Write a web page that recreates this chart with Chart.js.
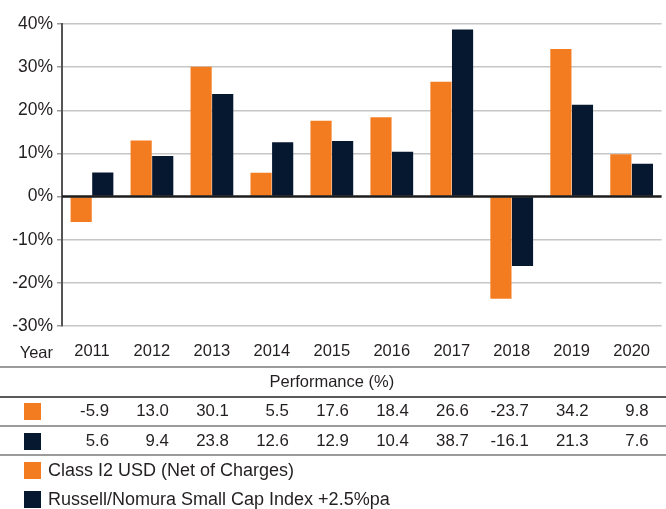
<!DOCTYPE html>
<html>
<head>
<meta charset="utf-8">
<script src="https://cdn.jsdelivr.net/npm/chart.js@4.4.1/dist/chart.umd.min.js"></script>
<style>
html, body { margin: 0; padding: 0; background: #fff; }
#wrap { width: 666px; height: 509px; position: relative; }
</style>
</head>
<body>
<div id="wrap"><canvas id="perfChart"></canvas></div>
<script>
// values
var years = ['2011', '2012', '2013', '2014', '2015', '2016', '2017', '2018', '2019', '2020'];
var classI2 = [-5.9, 13.0, 30.1, 5.5, 17.6, 18.4, 26.6, -23.7, 34.2, 9.8];
var russell = [5.6, 9.4, 23.8, 12.6, 12.9, 10.4, 38.7, -16.1, 21.3, 7.6];
var seriesNames = ['Class I2 USD (Net of Charges)', 'Russell/Nomura Small Cap Index +2.5%pa'];
var yMin = -30, yMax = 40, yStep = 10;

var ORANGE = '#f47c20';
var NAVY = '#061830';
var TEXT = '#231f20';
var FAMILY = "'Liberation Sans', Arial, sans-serif";

// zero line on top of the bars + the data table and legend below the axis
var tablePlugin = {
    id: 'perfTable',
    afterDatasetsDraw: function (chart) {
        var ctx = chart.ctx, area = chart.chartArea;
        var y0 = chart.scales.y.getPixelForValue(0);
        ctx.save();
        ctx.strokeStyle = '#1c1c1c';
        ctx.lineWidth = 2.5;
        ctx.beginPath();
        ctx.moveTo(area.left, y0);
        ctx.lineTo(area.right, y0);
        ctx.stroke();
        ctx.restore();
    },
    afterDraw: function (chart) {
        var ctx = chart.ctx;
        var x = chart.scales.x;
        var W = chart.width;
        ctx.save();
        ctx.font = '16.5px ' + FAMILY;
        ctx.fillStyle = TEXT;
        ctx.textBaseline = 'middle';

        ctx.textAlign = 'right';
        ctx.fillText('Year', 53, 353);

        function hline(y, color) {
            ctx.strokeStyle = color;
            ctx.lineWidth = 1.5;
            ctx.beginPath();
            ctx.moveTo(0, y);
            ctx.lineTo(W, y);
            ctx.stroke();
        }
        hline(367, '#7a7a7a');
        ctx.textAlign = 'center';
        ctx.fillText('Performance (%)', x.getPixelForValue(4), 382);
        hline(397, '#222');

        var rows = [classI2, russell];
        var rowY = [411, 441];
        var colors = chart.data.datasets.map(function (d) { return d.backgroundColor; });
        ctx.font = '16.8px ' + FAMILY;
        rows.forEach(function (vals, r) {
            ctx.fillStyle = colors[r];
            ctx.fillRect(24, rowY[r] - 8, 17, 17);
            ctx.fillStyle = TEXT;
            ctx.textAlign = 'right';
            vals.forEach(function (v, i) {
                ctx.fillText(v.toFixed(1), x.getPixelForValue(i) + 17, rowY[r]);
            });
        });
        hline(426, '#7a7a7a');
        hline(455, '#7a7a7a');

        // legend
        ctx.font = '18px ' + FAMILY;
        var legY = [470, 499];
        chart.data.datasets.forEach(function (d, r) {
            ctx.fillStyle = d.backgroundColor;
            ctx.fillRect(24, legY[r] - 8, 17, 17);
            ctx.fillStyle = TEXT;
            ctx.textAlign = 'left';
            ctx.fillText(d.label, 48, legY[r] + 1);
        });
        ctx.restore();
    }
};

var ctx = document.getElementById('perfChart');

var perfChart = new Chart(ctx, {
    type: 'bar',
    data: {
        labels: years,
        datasets: [{
            label: seriesNames[0],
            backgroundColor: ORANGE,
            data: classI2
        }, {
            label: seriesNames[1],
            backgroundColor: NAVY,
            data: russell
        }]
    },
    options: {
        responsive: true,
        maintainAspectRatio: false,
        animation: false,
        layout: { padding: { top: 24, right: 0, left: 0, bottom: 143 } },
        datasets: {
            bar: { categoryPercentage: 0.72, barPercentage: 0.98 }
        },
        plugins: {
            legend: { display: false },
            tooltip: { enabled: false }
        },
        scales: {
            x: {
                grid: { display: false, drawTicks: false },
                border: { display: false },
                ticks: { color: TEXT, font: { family: FAMILY, size: 16.5 }, padding: 16, maxRotation: 0 },
                afterFit: function (s) { s.height = 40; }
            },
            y: {
                min: yMin,
                max: yMax,
                ticks: {
                    stepSize: yStep,
                    color: TEXT,
                    padding: 4,
                    font: { family: FAMILY, size: 17.5 },
                    callback: function (v) { return v + '%'; }
                },
                grid: {
                    color: function (c) { return c.tick && c.tick.value === 0 ? 'rgba(0,0,0,0)' : '#c6c6c6'; },
                    tickColor: '#9a9a9a',
                    tickLength: 5,
                    lineWidth: 1.5
                },
                border: { color: '#555', width: 2 },
                afterFit: function (s) { s.width = 62; }
            }
        }
    },
    plugins: [tablePlugin]
});
</script>
</body>
</html>
